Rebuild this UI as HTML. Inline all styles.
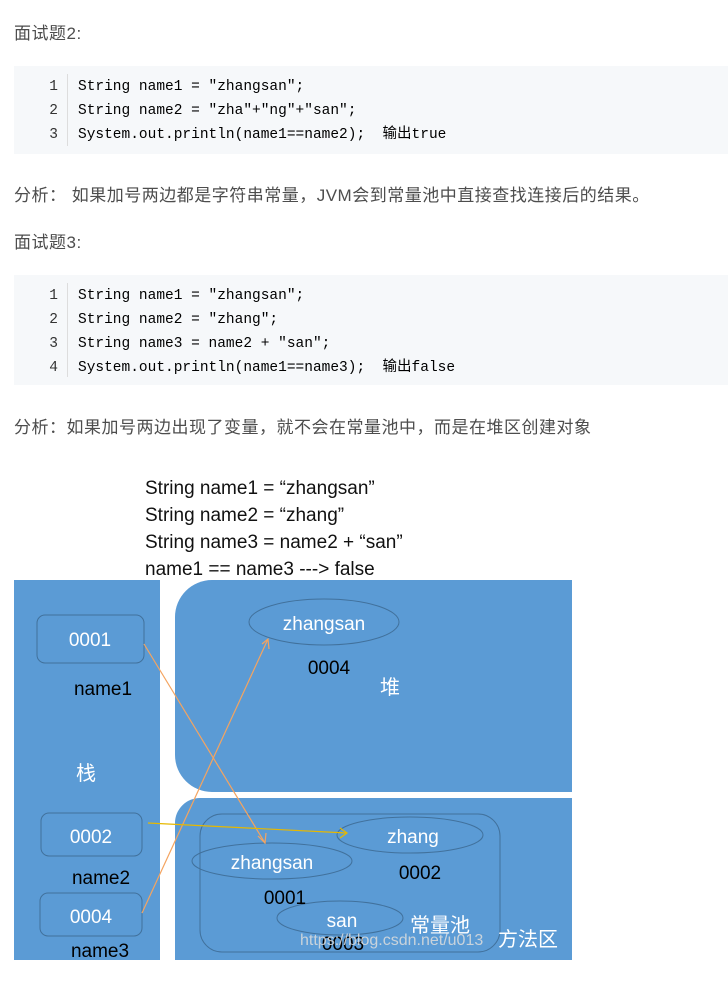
<!DOCTYPE html>
<html><head><meta charset="utf-8"><style>
body{margin:0;background:#fff;width:728px;height:985px;position:relative;overflow:hidden;font-family:"Liberation Sans","Noto Sans CJK SC",sans-serif;color:#4d4d4d}
.p{position:absolute;left:14px;font-size:17px;letter-spacing:0.5px;color:#4d4d4d;line-height:20px}
.code{position:absolute;left:14px;width:714px;background:#f6f8fa;font-family:"Liberation Mono","Noto Sans CJK SC",monospace;font-size:14.5px;color:#000}
.ln{position:absolute;left:0;width:44px;text-align:right;color:#333;line-height:24px;height:24px}
.bar{position:absolute;left:53px;top:8px;bottom:8px;border-left:1px solid #ddd}
.l{position:absolute;left:64px;white-space:pre;line-height:24px;height:24px}
</style></head><body>
<div class="p" style="top:24px">面试题2:</div>
<div class="code" style="top:66px;height:88px">
<div class="bar"></div>
<div class="ln" style="top:9px">1</div><div class="l" style="top:9px">String name1 = "zhangsan";</div>
<div class="ln" style="top:33px">2</div><div class="l" style="top:33px">String name2 = "zha"+"ng"+"san";</div>
<div class="ln" style="top:57px">3</div><div class="l" style="top:57px">System.out.println(name1==name2);  输出true</div>
</div>
<div class="p" style="top:186px">分析： 如果加号两边都是字符串常量，JVM会到常量池中直接查找连接后的结果。</div>
<div class="p" style="top:233px">面试题3:</div>
<div class="code" style="top:275px;height:110px">
<div class="bar"></div>
<div class="ln" style="top:9px">1</div><div class="l" style="top:9px">String name1 = "zhangsan";</div>
<div class="ln" style="top:33px">2</div><div class="l" style="top:33px">String name2 = "zhang";</div>
<div class="ln" style="top:57px">3</div><div class="l" style="top:57px">String name3 = name2 + "san";</div>
<div class="ln" style="top:81px">4</div><div class="l" style="top:81px">System.out.println(name1==name3);  输出false</div>
</div>
<div class="p" style="top:418px">分析：如果加号两边出现了变量，就不会在常量池中，而是在堆区创建对象</div>
<svg style="position:absolute;left:0;top:0" width="728" height="985" font-family="Liberation Sans, Noto Sans CJK SC, sans-serif">
<g font-size="19" fill="#111">
<text x="145" y="494">String name1 = “zhangsan”</text>
<text x="145" y="521">String name2 = “zhang”</text>
<text x="145" y="548">String name3 = name2 + “san”</text>
<text x="145" y="575">name1 == name3 ---&gt; false</text>
</g>
<rect x="14" y="580" width="146" height="380" fill="#5b9bd5"/>
<path d="M212 580 H572 V792 H212 A37 37 0 0 1 175 755 V617 A37 37 0 0 1 212 580Z" fill="#5b9bd5"/>
<path d="M200 798 H572 V960 H175 V823 A25 25 0 0 1 200 798Z" fill="#5b9bd5"/>
<g fill="none" stroke="#41719c" stroke-width="1">
<rect x="37" y="615" width="107" height="48" rx="8"/>
<rect x="41" y="813" width="101" height="43" rx="8"/>
<rect x="40" y="893" width="102" height="43" rx="8"/>
<ellipse cx="324" cy="622" rx="75" ry="23"/>
<rect x="200" y="814" width="300" height="138" rx="22"/>
<ellipse cx="410" cy="835" rx="73" ry="18"/>
<ellipse cx="272" cy="861" rx="80" ry="18"/>
<ellipse cx="340" cy="918" rx="63" ry="17"/>
</g>
<g stroke="#f4a460" stroke-width="1.2" fill="none">
<line x1="144" y1="644" x2="265" y2="843"/>
<path d="M258 836 L265 843 L266 833"/>
<line x1="142" y1="913" x2="268" y2="639"/>
<path d="M262 644 L268 639 L269 649"/>
</g>
<g stroke="#e6b800" stroke-width="1.2" fill="none">
<line x1="148" y1="823" x2="347" y2="833"/>
<path d="M340 828 L347 833 L340 838"/>
</g>
<g fill="#fff" font-size="19" text-anchor="middle">
<text x="90" y="646">0001</text>
<text x="91" y="843">0002</text>
<text x="91" y="923">0004</text>
<text x="324" y="630">zhangsan</text>
<text x="413" y="843">zhang</text>
<text x="272" y="869">zhangsan</text>
<text x="342" y="927">san</text>
<text x="390" y="694" font-size="20">堆</text>
<text x="86" y="780" font-size="20">栈</text>
<text x="440" y="932" font-size="20">常量池</text>
<text x="528" y="946" font-size="20">方法区</text>
</g>
<g fill="#000" font-size="19" text-anchor="middle">
<text x="103" y="695">name1</text>
<text x="101" y="884">name2</text>
<text x="100" y="957">name3</text>
<text x="329" y="674">0004</text>
<text x="420" y="879">0002</text>
<text x="285" y="904">0001</text>
<text x="343" y="950">0003</text>
</g>
<text x="300" y="945" font-size="16" fill="#ddd" opacity="0.85">https://blog.csdn.net/u013</text>
</svg>
</body></html>
